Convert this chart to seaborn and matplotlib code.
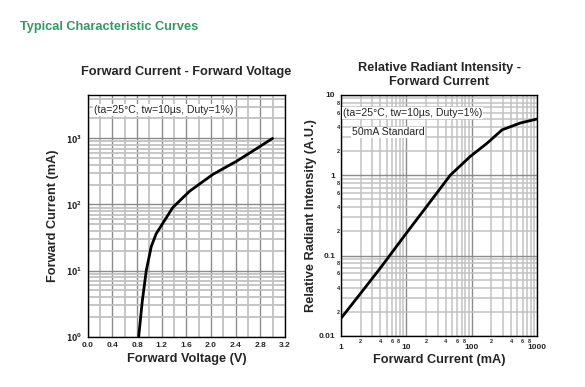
import numpy as np
import pandas as pd
import matplotlib
matplotlib.use('Agg')
import matplotlib.pyplot as plt
import matplotlib.ticker as mticker
import seaborn as sns

# ---------------------------------------------------------------------------
# data
# ---------------------------------------------------------------------------
vf_volts = [0.827, 0.886, 0.95, 1.03, 1.11, 1.27, 1.38, 1.51, 1.65, 2.03, 2.42, 2.74, 3.0]
if_ma = [1.0, 3.5, 10.0, 23.0, 36.0, 62.0, 90.0, 118.0, 158.0, 285.0, 454.0, 700.0, 1000.0]

ir_current = [1.0, 2.0, 4.0, 10.0, 21.0, 47.0, 95.0, 172.0, 292.0, 560.0, 1000.0]
ir_intensity = [0.0166, 0.034, 0.07, 0.19, 0.42, 1.0, 1.71, 2.5, 3.67, 4.47, 5.0]

vf_ticks = [0.0, 0.4, 0.8, 1.2, 1.6, 2.0, 2.4, 2.8, 3.2]
if_ticks = [1, 10, 100, 1000]
if_labels = [r'$\mathbf{10^{0}}$', r'$\mathbf{10^{1}}$', r'$\mathbf{10^{2}}$', r'$\mathbf{10^{3}}$']
cond_text = '(ta=25°C, tw=10µs, Duty=1%)'

df_vf = pd.DataFrame({'V': vf_volts, 'I': if_ma})
df_ir = pd.DataFrame({'I': ir_current, 'R': ir_intensity})

sns.set_style('white')
plt.rcParams['font.family'] = ['Liberation Sans', 'DejaVu Sans']

fig = plt.figure(figsize=(5.85, 3.87), dpi=100)
fig.text(0.034, 0.93, 'Typical Characteristic Curves', color='#339966',
         fontsize=9.2, fontweight='bold', ha='left', va='center')

light = '#c2c2c2'
dark = '#8c8c8c'

# ---------------------------------------------------------------------------
# left: forward current vs forward voltage
# ---------------------------------------------------------------------------
ax1 = fig.add_axes([0.150, 0.130, 0.337, 0.624])
ax1.set_yscale('log')
ax1.set_xlim(0, 3.2)
ax1.set_ylim(1, 4500)
ax1.xaxis.set_major_locator(mticker.FixedLocator(vf_ticks))
ax1.xaxis.set_minor_locator(mticker.MultipleLocator(0.2))
ax1.xaxis.set_major_formatter(mticker.FormatStrFormatter('%.1f'))
ax1.yaxis.set_major_locator(mticker.FixedLocator(if_ticks))
ax1.yaxis.set_major_formatter(mticker.FixedFormatter(if_labels))
ax1.yaxis.set_minor_locator(mticker.LogLocator(base=10, subs=np.arange(2, 10)))
ax1.yaxis.set_minor_formatter(mticker.NullFormatter())
ax1.grid(True, which='minor', color=light, linewidth=1.3)
ax1.grid(True, which='major', color=dark, linewidth=1.0)
ax1.set_axisbelow(True)

sns.lineplot(data=df_vf, x='V', y='I', ax=ax1, color='black', linewidth=2)

ax1.set_title('Forward Current - Forward Voltage', fontsize=9.2, fontweight='bold', pad=14.5)
ax1.set_xlabel('Forward Voltage (V)', fontsize=9.2, fontweight='bold', labelpad=3)
ax1.set_ylabel('Forward Current (mA)', fontsize=9.2, fontweight='bold', labelpad=5)
ax1.text(0.03, 0.96, cond_text, transform=ax1.transAxes, fontsize=7.6,
         ha='left', va='top', bbox=dict(facecolor='white', edgecolor='none', pad=0.5))
ax1.tick_params(which='both', length=0)
ax1.tick_params(axis='x', which='major', labelsize=6, pad=3.6)
ax1.tick_params(axis='y', which='major', labelsize=5.5, pad=4)

# ---------------------------------------------------------------------------
# right: relative radiant intensity vs forward current
# ---------------------------------------------------------------------------
ax2 = fig.add_axes([0.583, 0.132, 0.335, 0.623])
ax2.set_xscale('log')
ax2.set_yscale('log')
ax2.set_xlim(1, 1000)
ax2.set_ylim(0.01, 10)


def minor_fmt(v, pos):
    m = int(round(v / 10 ** np.floor(np.log10(v) + 1e-9)))
    return str(m) if m in (2, 4, 6, 8) else ''


for axis in (ax2.xaxis, ax2.yaxis):
    axis.set_minor_locator(mticker.LogLocator(base=10, subs=np.arange(2, 10)))
    axis.set_minor_formatter(mticker.FuncFormatter(minor_fmt))
ax2.xaxis.set_major_locator(mticker.FixedLocator([1, 10, 100, 1000]))
ax2.xaxis.set_major_formatter(mticker.FixedFormatter(['1', '10', '100', '1000']))
ax2.yaxis.set_major_locator(mticker.FixedLocator([0.01, 0.1, 1, 10]))
ax2.yaxis.set_major_formatter(mticker.FixedFormatter(['0.01', '0.1', '1', '10']))
ax2.grid(True, which='minor', color=light, linewidth=1.1)
ax2.grid(True, which='major', color=dark, linewidth=1.0)
ax2.set_axisbelow(True)

sns.lineplot(data=df_ir, x='I', y='R', ax=ax2, color='black', linewidth=2)

ax2.set_title('Relative Radiant Intensity -\nForward Current', fontsize=9.2, fontweight='bold',
              pad=7, linespacing=1.2)
ax2.set_xlabel('Forward Current (mA)', fontsize=9.2, fontweight='bold', labelpad=2)
ax2.set_ylabel('Relative Radiant Intensity (A.U.)', fontsize=9.2, fontweight='bold', labelpad=1)
ax2.text(0.01, 0.945, cond_text, transform=ax2.transAxes, fontsize=7.6,
         ha='left', va='top', bbox=dict(facecolor='white', edgecolor='none', pad=0.5))
ax2.text(0.055, 0.865, '50mA Standard', transform=ax2.transAxes, fontsize=7.6,
         ha='left', va='top', bbox=dict(facecolor='white', edgecolor='none', pad=0.5))
ax2.tick_params(which='both', length=0)
ax2.tick_params(axis='x', which='major', labelsize=6, pad=5.8)
ax2.tick_params(axis='x', which='minor', labelsize=4, pad=2)
ax2.tick_params(axis='y', which='major', labelsize=6, pad=4.3)
ax2.tick_params(axis='y', which='minor', labelsize=4, pad=0.8)

for ax in (ax1, ax2):
    for sp in ax.spines.values():
        sp.set_color('black')
        sp.set_linewidth(1.0)

fig.canvas.draw()
for ax in (ax1, ax2):
    for lbl in ax.get_xticklabels(which='both') + ax.get_yticklabels(which='both'):
        lbl.set_fontweight('bold')
# the minor "8" sits right next to the decade label
for lbl in ax2.get_xticklabels(minor=True):
    if lbl.get_text() == '8':
        lbl.set_horizontalalignment('right')

fig.savefig('out.png', dpi=100)
